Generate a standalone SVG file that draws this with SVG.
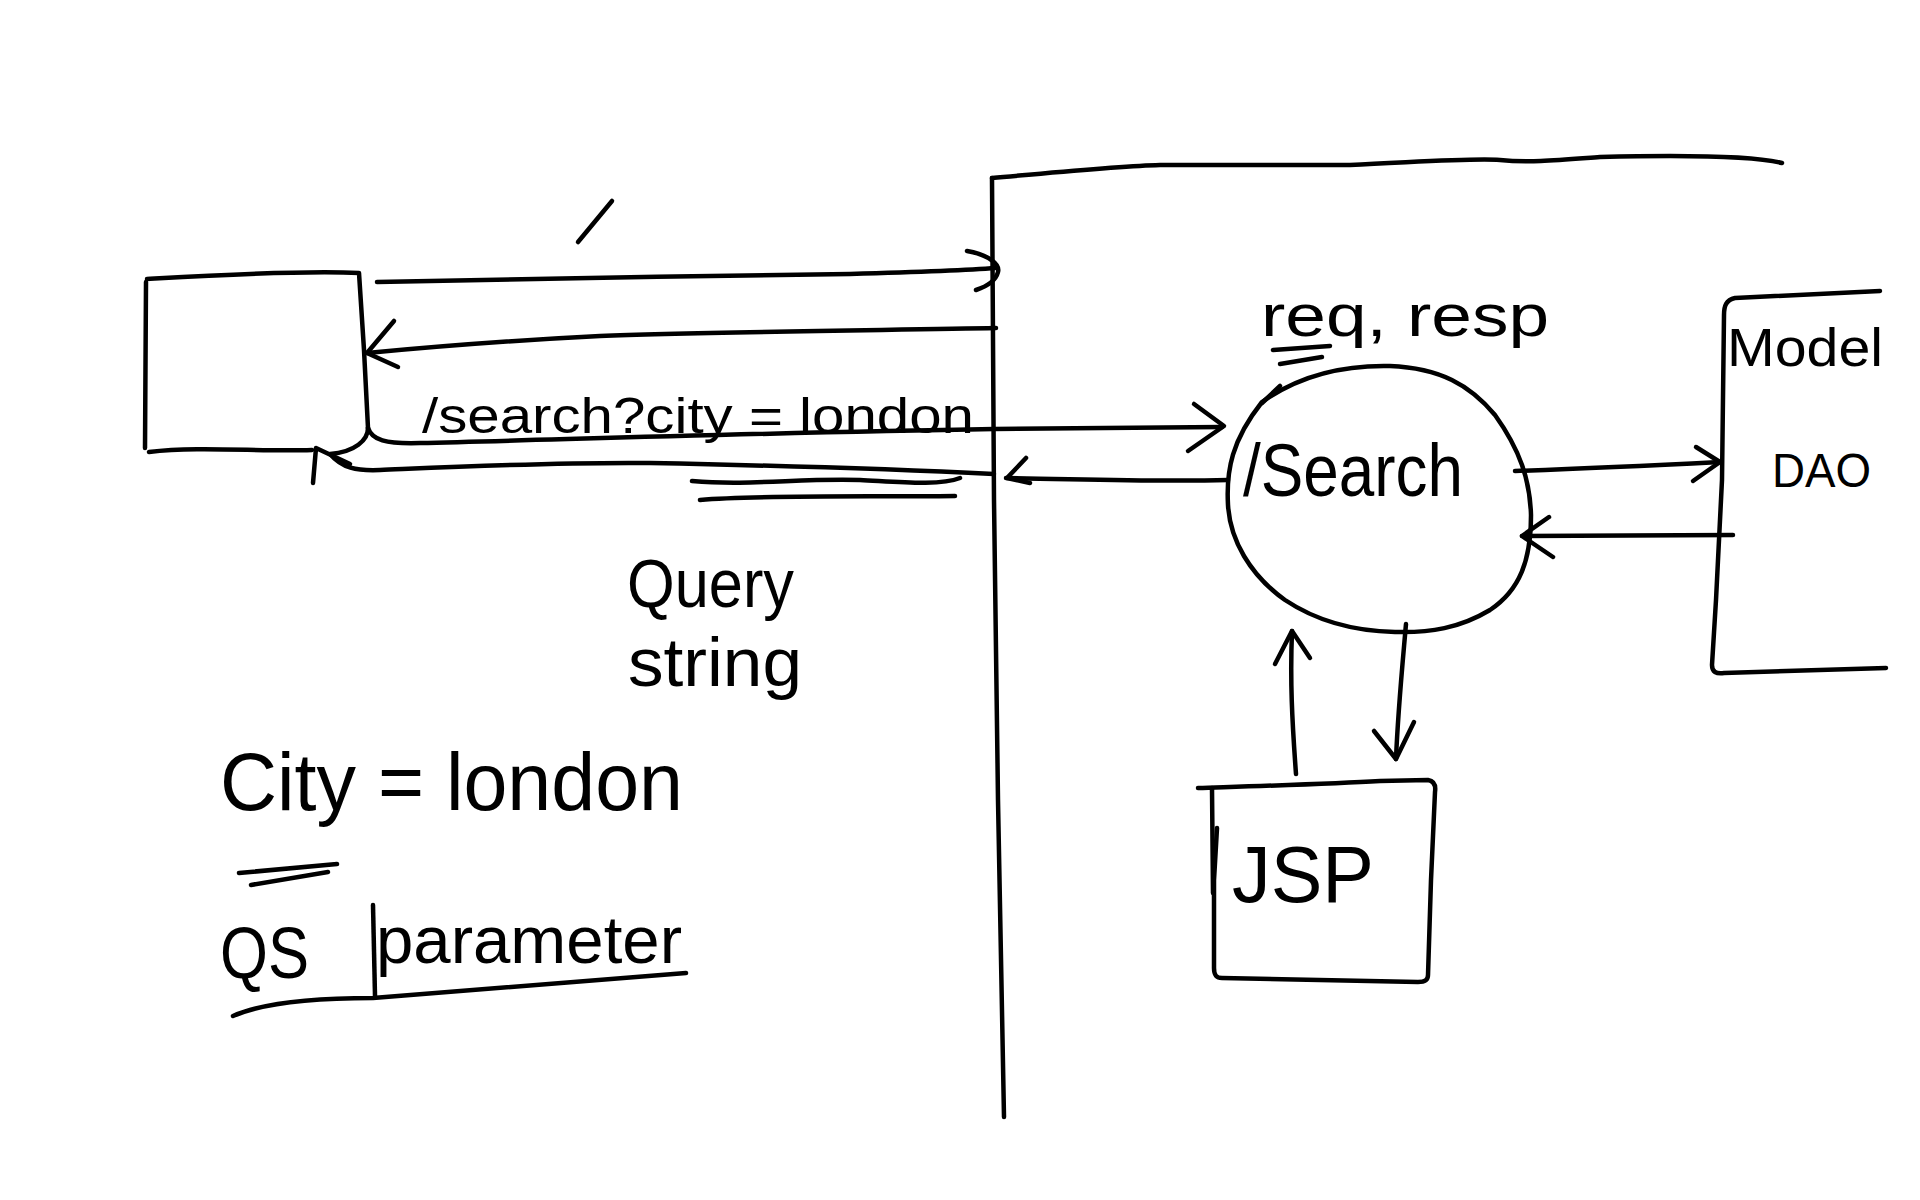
<svg xmlns="http://www.w3.org/2000/svg" width="1920" height="1200" viewBox="0 0 1920 1200">
<style>
.s{fill:none;stroke:#000;stroke-width:4.5;stroke-linecap:round;stroke-linejoin:round}
.t{font-family:"Liberation Sans","DejaVu Sans",sans-serif;fill:#000}
</style>
<rect width="1920" height="1200" fill="#fff"/>

<g id="client">
  <path class="s" d="M147,279 C200,276 300,270 359,273 L364,350 L368,428"/>
  <path class="s" d="M146,282 L145,448"/>
  <path class="s" d="M149,452 C200,446 260,452 312,450"/>
</g>

<g id="server-boundary">
  <path class="s" d="M992,178 C1060,172 1120,166 1160,165 L1350,165 C1420,162 1470,158 1500,160 C1530,163 1560,160 1600,157 C1680,155 1750,155 1782,163"/>
  <path class="s" d="M992,178 L994,500 L998,800 L1004,1117"/>
</g>

<g id="search">
  <path class="s" d="M1262,402 C1300,375 1345,365 1390,366 C1440,368 1470,385 1495,415 C1520,450 1530,480 1531,515 C1531,560 1520,590 1490,610 C1460,628 1430,633 1395,632 C1350,631 1315,620 1285,600 C1250,575 1230,540 1228,505 C1226,470 1232,440 1262,402 Z"/>
  <text class="t" x="1243" y="496" font-size="74" textLength="220" lengthAdjust="spacingAndGlyphs">/Search</text>
  <path class="s" d="M1262,403 L1280,386"/>
</g>

<g id="req-resp">
  <text class="t" x="1261" y="336" font-size="60" textLength="288" lengthAdjust="spacingAndGlyphs">req, resp</text>
  <path class="s" d="M1273,350 L1330,346"/>
  <path class="s" d="M1280,364 L1322,357"/>
</g>

<g id="model">
  <path class="s" d="M1880,291 L1735,298 C1726,300 1724,306 1724,315 L1722,480 L1716,600 L1712,665 C1712,672 1716,674 1724,673 L1886,668"/>
  <text class="t" x="1727" y="366" font-size="54" textLength="156" lengthAdjust="spacingAndGlyphs">Model</text>
  <text class="t" x="1772" y="487" font-size="48" textLength="99" lengthAdjust="spacingAndGlyphs">DAO</text>
</g>

<g id="jsp">
  <path class="s" d="M1198,788 C1260,786 1330,784 1380,781 L1428,780 C1434,781 1436,785 1435,792 L1431,880 L1428,975 C1428,980 1425,982 1418,982 L1222,978 C1216,978 1214,975 1214,968 L1214,880 L1217,828"/>
  <path class="s" d="M1212,788 L1213,893"/>
  <text class="t" x="1232" y="902" font-size="80" textLength="142" lengthAdjust="spacingAndGlyphs">JSP</text>
</g>

<g id="labels">
  <text class="t" x="422" y="433" font-size="50" textLength="552" lengthAdjust="spacingAndGlyphs">/search?city = london</text>
  <path class="s" d="M692,481 C750,486 800,478 860,480 C900,482 940,486 960,478"/>
  <path class="s" d="M700,500 C760,495 860,497 955,496"/>
  <path class="s" d="M578,242 L612,201"/>
  <text class="t" x="627" y="607" font-size="68" textLength="167" lengthAdjust="spacingAndGlyphs">Query</text>
  <text class="t" x="628" y="686" font-size="68" textLength="174" lengthAdjust="spacingAndGlyphs">string</text>
  <text class="t" x="220" y="810" font-size="82" textLength="463" lengthAdjust="spacingAndGlyphs">City = london</text>
  <path class="s" d="M239,873 L337,864"/>
  <path class="s" d="M251,885 L328,872"/>
  <text class="t" x="220" y="978" font-size="72" textLength="89" lengthAdjust="spacingAndGlyphs">QS</text>
  <text class="t" x="376" y="963" font-size="66" textLength="306" lengthAdjust="spacingAndGlyphs">parameter</text>
  <path class="s" d="M373,905 L375,996"/>
  <path class="s" d="M233,1016 C265,1002 320,998 373,998 L686,973"/>
</g>

<g id="connectors">
  <!-- request -->
  <path class="s" d="M377,282 C500,279 700,276 850,274 C920,272 970,270 996,268"/>
  <path class="s" d="M967,251 C990,255 1000,265 998,272 C996,280 988,286 976,290"/>
  <!-- response -->
  <path class="s" d="M996,328 C900,330 700,332 600,336 C500,341 420,348 367,353"/>
  <path class="s" d="M394,321 L367,353 L398,367"/>
  <!-- /search request -->
  <path class="s" d="M368,428 C372,440 385,444 420,443 C550,440 750,433 994,429 L1222,427"/>
  <path class="s" d="M1194,404 L1224,426 L1188,451"/>
  <!-- return from /Search -->
  <path class="s" d="M1228,480 C1150,482 1080,479 1006,478"/>
  <path class="s" d="M1026,458 L1007,478 L1030,483"/>
  <!-- return to client -->
  <path class="s" d="M368,428 C368,440 355,452 330,454 C342,468 356,471 380,470 C450,467 550,462 650,463 C750,465 850,467 994,474"/>
  <path class="s" d="M313,483 L316,448 L350,464"/>
  <!-- to model -->
  <path class="s" d="M1515,471 C1600,468 1660,465 1720,462"/>
  <path class="s" d="M1696,447 L1720,462 L1693,481"/>
  <!-- from model -->
  <path class="s" d="M1733,535 C1650,536 1580,536 1522,536"/>
  <path class="s" d="M1549,517 L1522,536 L1553,557"/>
  <!-- JSP up -->
  <path class="s" d="M1296,774 C1292,720 1290,680 1292,631"/>
  <path class="s" d="M1275,664 L1292,631 L1310,658"/>
  <!-- JSP down -->
  <path class="s" d="M1406,624 C1402,670 1398,710 1396,759"/>
  <path class="s" d="M1374,731 L1396,759 L1414,722"/>
</g>
</svg>
